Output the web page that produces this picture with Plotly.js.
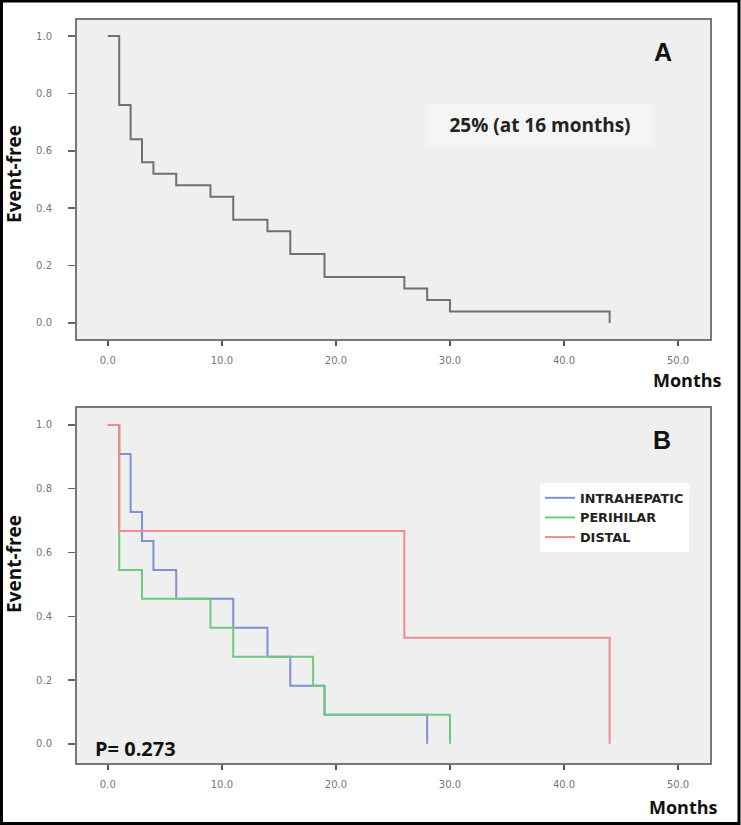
<!DOCTYPE html>
<html>
<head>
<meta charset="utf-8">
<script src="https://cdn.plot.ly/plotly-3.0.1.min.js"></script>
<style>html,body{margin:0;padding:0;background:#fff;}#chart{width:741px;height:825px;}</style>
</head>
<body>
<div id="chart"></div>
<script>
// Panel A: all patients
const monthsAll = [0, 1, 2, 3, 4, 6, 9, 11, 14, 16, 19, 26, 28, 30, 44];
const eventFreeAll = [1.0, 0.76, 0.64, 0.56, 0.52, 0.48, 0.44, 0.36, 0.32, 0.24, 0.16, 0.12, 0.08, 0.04, 0.0];

// Panel B: by tumour location
const monthsIntrahepatic = [0, 1, 2, 3, 4, 6, 11, 14, 16, 19, 28];
const eventFreeIntrahepatic = [1.0, 0.909, 0.727, 0.636, 0.545, 0.455, 0.364, 0.273, 0.182, 0.091, 0.0];
const monthsPerihilar = [0, 1, 3, 9, 11, 18, 19, 30];
const eventFreePerihilar = [1.0, 0.545, 0.455, 0.364, 0.273, 0.182, 0.091, 0.0];
const monthsDistal = [0, 1, 26, 44];
const eventFreeDistal = [1.0, 0.667, 0.333, 0.0];

const xTicks = [0, 10, 20, 30, 40, 50];
const yTicks = [0, 0.2, 0.4, 0.6, 0.8, 1.0];
const groupNames = ['INTRAHEPATIC', 'PERIHILAR', 'DISTAL'];

const W = 741, H = 825;
const px = v => v / W;
const py = v => 1 - v / H;

const traces = [
  {x: monthsAll, y: eventFreeAll, type: 'scatter', mode: 'lines', line: {shape: 'hv', color: '#707070', width: 2},
   xaxis: 'x', yaxis: 'y', showlegend: false},
  {x: monthsIntrahepatic, y: eventFreeIntrahepatic, name: groupNames[0], type: 'scatter', mode: 'lines',
   line: {shape: 'hv', color: '#7f90d4', width: 2}, xaxis: 'x2', yaxis: 'y2'},
  {x: monthsPerihilar, y: eventFreePerihilar, name: groupNames[1], type: 'scatter', mode: 'lines',
   line: {shape: 'hv', color: '#6fca7f', width: 2}, xaxis: 'x2', yaxis: 'y2'},
  {x: monthsDistal, y: eventFreeDistal, name: groupNames[2], type: 'scatter', mode: 'lines',
   line: {shape: 'hv', color: '#f08a8e', width: 2}, xaxis: 'x2', yaxis: 'y2'}
];

const tickFont = {family: 'DejaVu Sans', size: 10, color: '#777'};

function xAxis(anchor) {
  return {
    domain: [px(77), px(710)], range: [-2.7, 52.8], anchor: anchor,
    tickvals: xTicks, ticktext: xTicks.map(v => v.toFixed(1)),
    ticks: 'outside', ticklen: 5, tickwidth: 2, tickcolor: '#555',
    tickfont: tickFont, ticklabelstandoff: 6,
    showline: true, mirror: true, linecolor: '#777', linewidth: 2,
    showgrid: false, zeroline: false, fixedrange: true
  };
}
function yAxis(anchor, domain, range) {
  return {
    domain: domain, range: range, anchor: anchor,
    tickvals: yTicks, ticktext: yTicks.map(v => v.toFixed(1)),
    ticks: 'outside', ticklen: 7, tickwidth: 1.5, tickcolor: '#666',
    tickfont: tickFont, ticklabelstandoff: 14,
    showline: true, mirror: true, linecolor: '#777', linewidth: 2,
    showgrid: false, zeroline: false, fixedrange: true
  };
}

function label(text, x, y, size, family, extra) {
  return Object.assign({
    text: '<b>' + text + '</b>', x: px(x), y: py(y), xref: 'paper', yref: 'paper',
    xanchor: 'center', yanchor: 'middle', showarrow: false,
    font: {family: family, size: size, color: '#111'}
  }, extra || {});
}

const layout = {
  width: W, height: H,
  margin: {l: 0, r: 0, t: 0, b: 0},
  paper_bgcolor: '#ffffff', plot_bgcolor: '#efefef',
  xaxis: xAxis('y'),
  yaxis: yAxis('x', [py(339), py(20)], [-0.056, 1.056]),
  xaxis2: xAxis('y2'),
  yaxis2: yAxis('x2', [py(763), py(408)], [-0.06, 1.053]),
  showlegend: true,
  legend: {
    x: px(540), y: py(483), xanchor: 'left', yanchor: 'top',
    bgcolor: '#ffffff', borderwidth: 0,
    font: {family: 'DejaVu Sans', size: 12.8, color: '#222', weight: 'bold'},
    tracegroupgap: 0, itemwidth: 30
  },
  annotations: [
    label('Event-free', 14, 174, 19, 'Open Sans', {textangle: -90}),
    label('Event-free', 14, 564, 19, 'Open Sans', {textangle: -90}),
    label('A', 663, 52, 25, 'Liberation Sans'),
    label('25% (at 16 months)', 540, 125, 19, 'Open Sans',
      {bgcolor: '#f5f5f5', borderpad: 7, width: 210, font: {family: 'Open Sans', size: 19, color: '#222'}}),
    label('Months', 687, 380, 18, 'Open Sans'),
    label('B', 662, 440, 25, 'Liberation Sans'),
    label('P= 0.273', 93, 748, 20, 'Open Sans', {xanchor: 'left'}),
    label('Months', 683, 807, 18, 'Open Sans')
  ],
  shapes: [
    {type: 'rect', xref: 'paper', yref: 'paper', x0: px(1.5), x1: px(739), y0: py(823.5), y1: py(1),
     line: {color: '#000', width: 3}, fillcolor: 'rgba(0,0,0,0)'}
  ]
};

Plotly.newPlot('chart', traces, layout, {displayModeBar: false, staticPlot: true});
</script>
</body>
</html>
